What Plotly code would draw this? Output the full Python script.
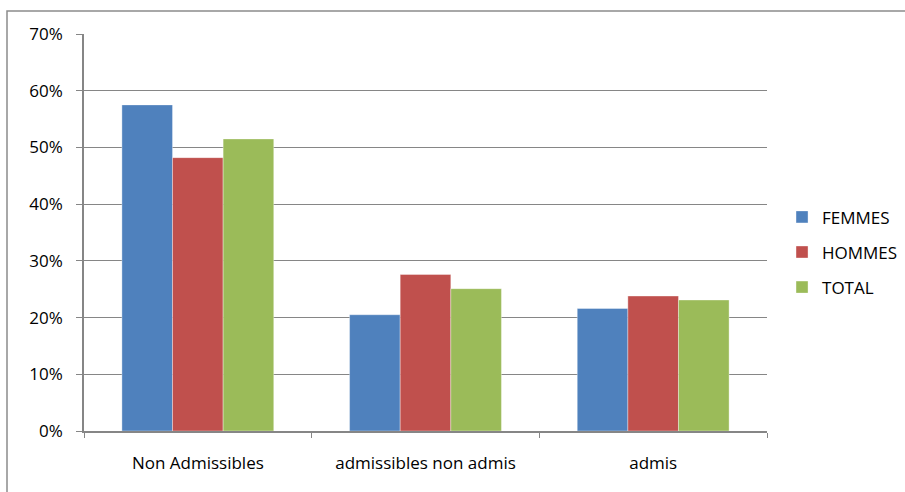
import plotly.graph_objects as go

categories = ["Non Admissibles", "admissibles non admis", "admis"]
femmes = [0.575, 0.205, 0.216]
hommes = [0.482, 0.276, 0.238]
total = [0.515, 0.251, 0.231]
series_names = ["FEMMES", "HOMMES", "TOTAL"]
series_colors = ["#4F81BD", "#C0504D", "#9BBB59"]
y_ticks = [0, 0.1, 0.2, 0.3, 0.4, 0.5, 0.6, 0.7]
y_tick_labels = ["0%", "10%", "20%", "30%", "40%", "50%", "60%", "70%"]

W, H = 905, 492
ML, MR, MT, MB = 84, 138, 34, 61

fig = go.Figure()
for name, vals, col in zip(series_names, [femmes, hommes, total], series_colors):
    fig.add_trace(go.Bar(
        x=categories, y=vals, name=name, legendgroup=name,
        marker=dict(color=col, line=dict(color="rgba(255,255,255,0.6)", width=0.6)),
    ))

font_family = "'Open Sans', sans-serif"
fig.update_layout(
    width=W, height=H,
    margin=dict(l=ML, r=MR, t=MT, b=MB, pad=0, autoexpand=False),
    paper_bgcolor="white", plot_bgcolor="white",
    barmode="group", bargap=0.333, bargroupgap=0,
    font=dict(family=font_family, size=17, color="#000000"),
    showlegend=True,
    legend=dict(
        x=1.022, xanchor="left", y=0.45, yanchor="middle",
        font=dict(size=17, family=font_family), tracegroupgap=10,
        bgcolor="rgba(0,0,0,0)",
    ),
    xaxis=dict(
        showline=True, linecolor="#868686", linewidth=1.5,
        ticks="outside", tickson="boundaries", ticklen=5, tickcolor="#868686",
        showgrid=False, ticklabelstandoff=16,
    ),
    yaxis=dict(
        range=[0, 0.7], tickvals=y_ticks, ticktext=y_tick_labels,
        showline=True, linecolor="#868686", linewidth=1.5,
        ticks="outside", ticklen=6, tickcolor="#868686",
        showgrid=True, gridcolor="#868686", gridwidth=1,
        zeroline=False, ticklabelstandoff=10,
    ),
    shapes=[dict(
        type="rect", xref="paper", yref="paper",
        x0=(7 - ML) / (W - ML - MR), x1=(W + 5 - ML) / (W - ML - MR),
        y0=-(H + 5 - (H - MB)) / (H - MT - MB), y1=(H - 11 - MB) / (H - MT - MB),
        line=dict(color="#8C8C8C", width=1.5), layer="below",
    )],
)

fig.write_html("out.html")
